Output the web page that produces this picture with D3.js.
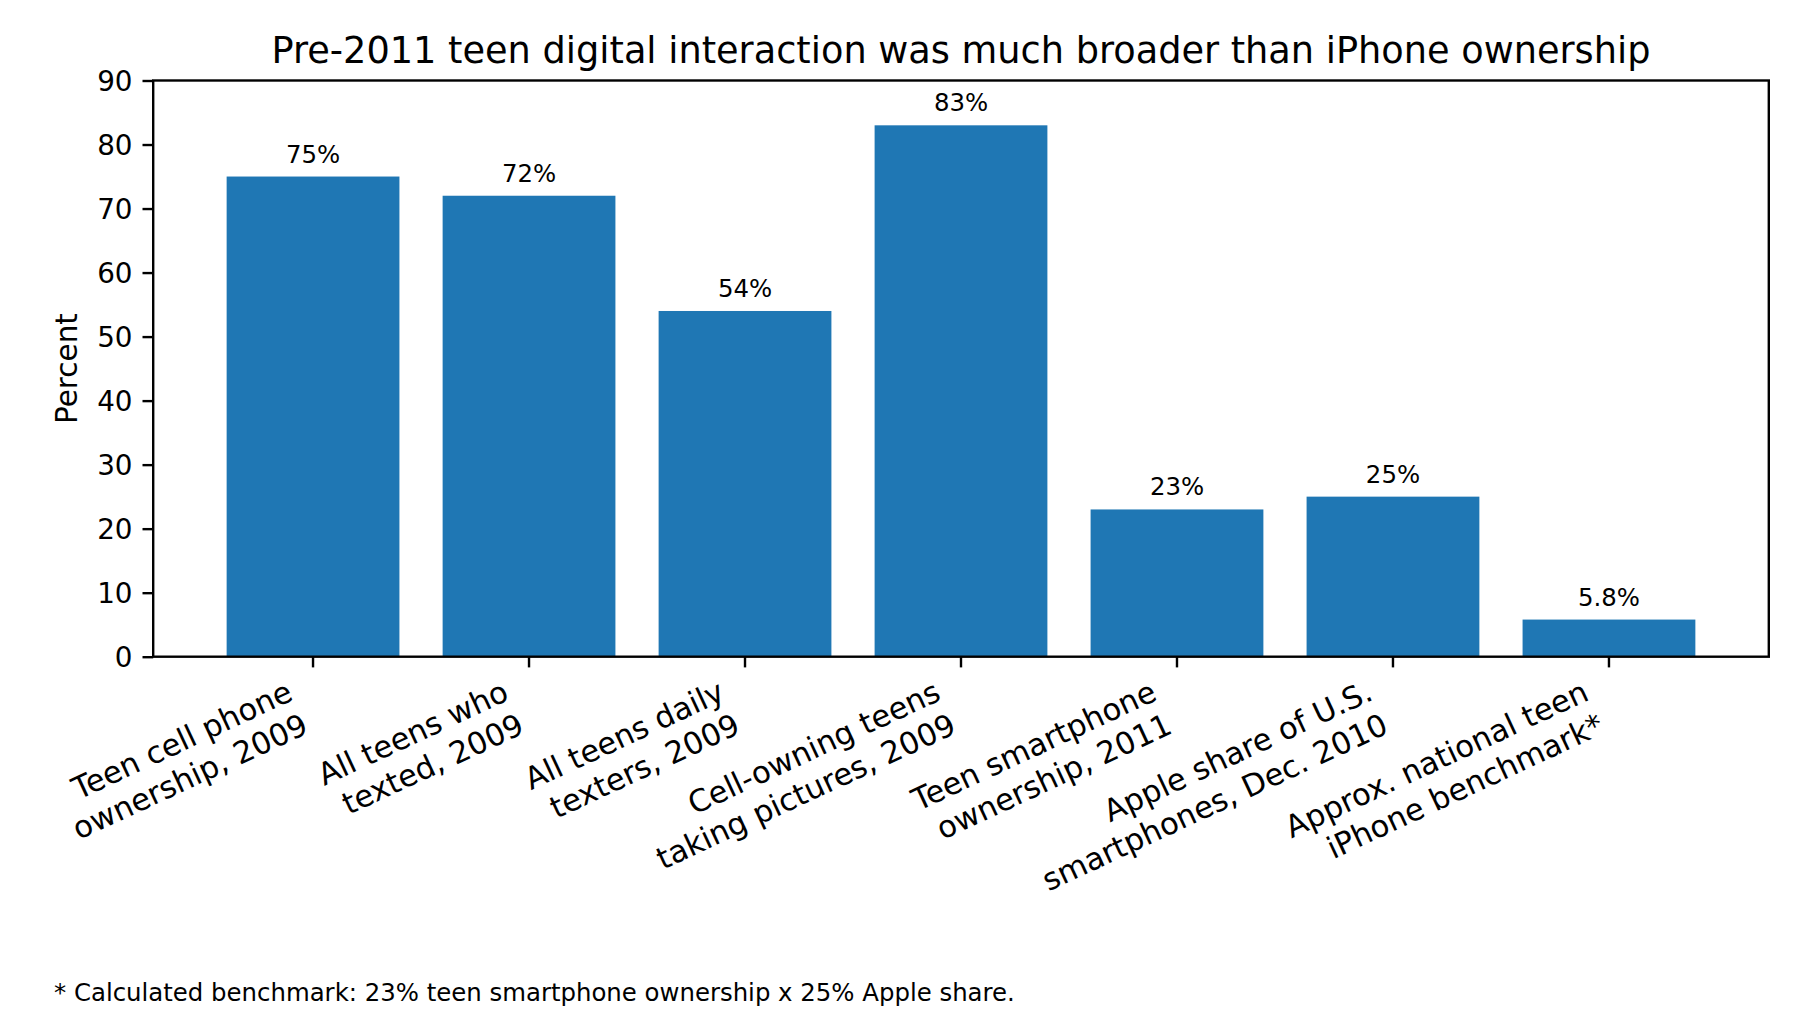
<!DOCTYPE html>
<html>
<head>
<meta charset="utf-8">
<script src="https://cdn.jsdelivr.net/npm/d3@7"></script>
<style>
    body { margin: 0; background: #fff; }
    text { font-family: "DejaVu Sans", sans-serif; fill: #000; }
</style>
</head>
<body>
<div id="chart"></div>
<script>
// data
const categories = [
    "Teen cell phone\nownership, 2009",
    "All teens who\ntexted, 2009",
    "All teens daily\ntexters, 2009",
    "Cell-owning teens\ntaking pictures, 2009",
    "Teen smartphone\nownership, 2011",
    "Apple share of U.S.\nsmartphones, Dec. 2010",
    "Approx. national teen\niPhone benchmark*"
];
const values = [75, 72, 54, 83, 23, 25, 5.8];
const valueLabels = ["75%", "72%", "54%", "83%", "23%", "25%", "5.8%"];
const yTicks = [0, 10, 20, 30, 40, 50, 60, 70, 80, 90];

const titleText = "Pre-2011 teen digital interaction was much broader than iPhone ownership";
const yLabelText = "Percent";
const footnoteText = "* Calculated benchmark: 23% teen smartphone ownership x 25% Apple share.";

const width = 1803;
const height = 1011;
const plot = { left: 153.2, right: 1768.8, top: 80.5, bottom: 656.7 };

const barColor = "#1f77b4";
const tickLen = 10.7;
const tickPad = 10.7;
const tickFont = 30.6;
const yTickFont = 27.8;
const labelAngle = 25;

const svg = d3.select('#chart').append('svg')
    .attr('width', width)
    .attr('height', height);

svg.append('rect').attr('width', width).attr('height', height).attr('fill', '#fff');

const x = d3.scaleBand()
    .domain(d3.range(categories.length))
    .range([plot.left, plot.right])
    .paddingInner(0.2)
    .paddingOuter(0.34);

const y = d3.scaleLinear()
    .domain([0, 90])
    .range([plot.bottom, plot.top]);

// bars
svg.append('g')
    .selectAll('rect')
    .data(values)
    .enter()
    .append('rect')
    .attr('x', (d, i) => x(i))
    .attr('y', d => y(d))
    .attr('width', x.bandwidth())
    .attr('height', d => y(0) - y(d))
    .attr('fill', barColor);

// value labels above bars
svg.append('g')
    .selectAll('text')
    .data(values)
    .enter()
    .append('text')
    .attr('x', (d, i) => x(i) + x.bandwidth() / 2)
    .attr('y', d => y(d) - 14)
    .attr('text-anchor', 'middle')
    .style('font-size', '24.4px')
    .text((d, i) => valueLabels[i]);

// y axis
const yAxis = d3.axisLeft(y)
    .tickValues(yTicks)
    .tickSize(tickLen)
    .tickPadding(10);

const yG = svg.append('g')
    .attr('transform', `translate(${plot.left},0)`)
    .call(yAxis);
yG.select('.domain').remove();
yG.selectAll('line').attr('stroke', '#000').attr('stroke-width', 2.4);
yG.selectAll('text')
    .attr('font-family', null)
    .style('font-size', yTickFont + 'px')
    .attr('dy', '0.36em');

// x axis ticks (labels drawn separately, rotated)
const xAxis = d3.axisBottom(x).tickSize(tickLen).tickFormat('');
const xG = svg.append('g')
    .attr('transform', `translate(0,${plot.bottom})`)
    .call(xAxis);
xG.select('.domain').remove();
xG.selectAll('line').attr('stroke', '#000').attr('stroke-width', 2.4);

// rotated multi-line tick labels, right aligned like matplotlib
const lineH = 1.195 * tickFont;
const ascent = 0.76 * tickFont;
const rad = labelAngle * Math.PI / 180;
const labelTop = plot.bottom + tickLen + tickPad;

categories.forEach((c, i) => {
    const lines = c.split('\n');
    const g = svg.append('g');
    const t = g.append('text')
        .attr('text-anchor', 'end')
        .style('font-size', tickFont + 'px');
    lines.forEach((l, k) => {
        t.append('tspan')
            .attr('x', 0)
            .attr('y', ascent + k * lineH)
            .text(l);
    });
    const w = d3.max(t.selectAll('tspan').nodes(), n => n.getComputedTextLength());
    const h = (lines.length - 1) * lineH + 0.996 * tickFont;
    t.selectAll('tspan').attr('x', w);
    const cx = x(i) + x.bandwidth() / 2;
    const px = cx - w * Math.cos(rad) - h * Math.sin(rad);
    const py = labelTop + w * Math.sin(rad);
    g.attr('transform', `translate(${px},${py}) rotate(${-labelAngle})`);
});

// frame
svg.append('rect')
    .attr('x', plot.left)
    .attr('y', plot.top)
    .attr('width', plot.right - plot.left)
    .attr('height', plot.bottom - plot.top)
    .attr('fill', 'none')
    .attr('stroke', '#000')
    .attr('stroke-width', 2.4);

// title
svg.append('text')
    .attr('x', (plot.left + plot.right) / 2)
    .attr('y', 63)
    .attr('text-anchor', 'middle')
    .style('font-size', '36.7px')
    .text(titleText);

// y label
svg.append('text')
    .attr('transform', `translate(77,${(plot.top + plot.bottom) / 2}) rotate(-90)`)
    .attr('text-anchor', 'middle')
    .style('font-size', '29.5px')
    .text(yLabelText);

// footnote
svg.append('text')
    .attr('x', 54)
    .attr('y', 1001)
    .style('font-size', '24.4px')
    .text(footnoteText);
</script>
</body>
</html>
